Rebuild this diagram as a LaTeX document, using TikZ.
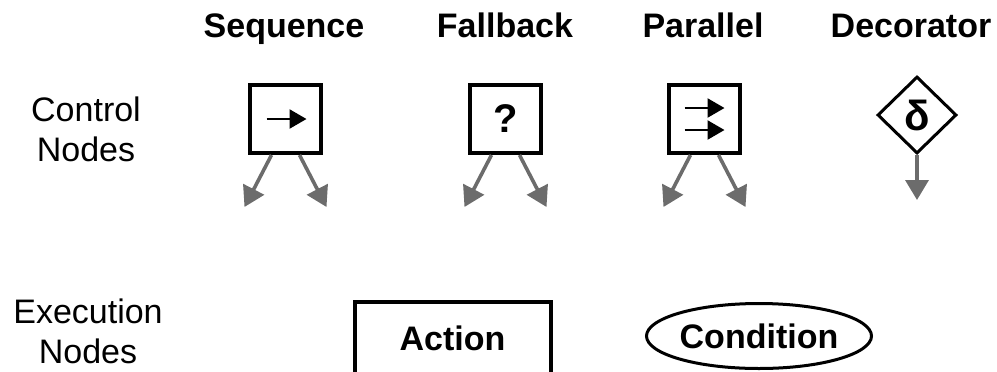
\documentclass[tikz,border=0pt]{standalone}
\usepackage{fontspec}
\setmainfont{Liberation Sans}
\usetikzlibrary{arrows.meta,shapes.geometric}
\definecolor{childgray}{RGB}{108,108,108}

\begin{document}
\begin{tikzpicture}[x=0.5pt, y=-0.5pt,
  title/.style = {font=\fontsize{17}{20}\selectfont\bfseries, anchor=base},
  side/.style = {font=\fontsize{17}{20}\selectfont, align=center},
  ctrl/.style = {draw, line width=2pt, minimum width=35.5pt, minimum height=34pt, inner sep=0pt, font=\fontsize{20}{24}\selectfont\bfseries},
  deco/.style = {draw, diamond, line width=1.5pt, minimum width=39.5pt, minimum height=38.5pt, inner sep=0pt, font=\fontsize{21}{24}\selectfont\bfseries},
  exec/.style = {draw, line width=2pt, minimum width=98pt, minimum height=36pt, inner sep=0pt, font=\fontsize{17}{20}\selectfont\bfseries},
  cond/.style = {draw, ellipse, line width=1.5pt, minimum width=112.5pt, minimum height=32.5pt, inner sep=0pt, font=\fontsize{17}{20}\selectfont\bfseries},
  child/.style = {draw=childgray, line width=1.8pt, -{Triangle[width=11.5pt,length=10pt]}},
  sym/.style = {line width=1.2pt, -{Triangle[width=9.5pt,length=8.5pt]}}]
\useasboundingbox (0,0) rectangle (997,371);
% headings
\node[title] (seqlbl) at (284,37) {Sequence};
\node[title] (fblbl) at (505,37) {Fallback};
\node[title] (parlbl) at (703,37) {Parallel};
\node[title] (declbl) at (911,37) {Decorator};
\node[side] (ctrllbl) at (86,129) {Control\\Nodes};
\node[side] (execlbl) at (88,331) {Execution\\Nodes};
% control nodes
\node[ctrl] (seq) at (285.5,119) {};
\node[ctrl] (fb) at (505.5,119) {?};
\node[ctrl] (par) at (704.5,119) {};
\node[deco] (dec) at (917,115) {δ};
\draw[sym] ([xshift=-9.5pt]seq.center) -- ([xshift=10.5pt]seq.center);
\draw[sym] ([xshift=-10pt,yshift=5.5pt]par.center) -- ([xshift=10pt,yshift=5.5pt]par.center);
\draw[sym] ([xshift=-10pt,yshift=-5.5pt]par.center) -- ([xshift=10pt,yshift=-5.5pt]par.center);
% children
\foreach \n in {seq,fb,par} {
  \coordinate (\n-l) at ([xshift=-20.5pt,yshift=-26pt]\n.south);
  \coordinate (\n-r) at ([xshift=20.5pt,yshift=-26pt]\n.south);
  \draw[child] ([xshift=-7pt]\n.south) -- (\n-l);
  \draw[child] ([xshift=7pt]\n.south) -- (\n-r);
}
\coordinate (dec-c) at ([yshift=-22.5pt]dec.south);
\draw[child] (dec.south) -- (dec-c);
% execution nodes
\node[exec] (action) at (452.5,338) {Action};
\node[cond] (condition) at (759,336) {Condition};
\end{tikzpicture}
\end{document}
